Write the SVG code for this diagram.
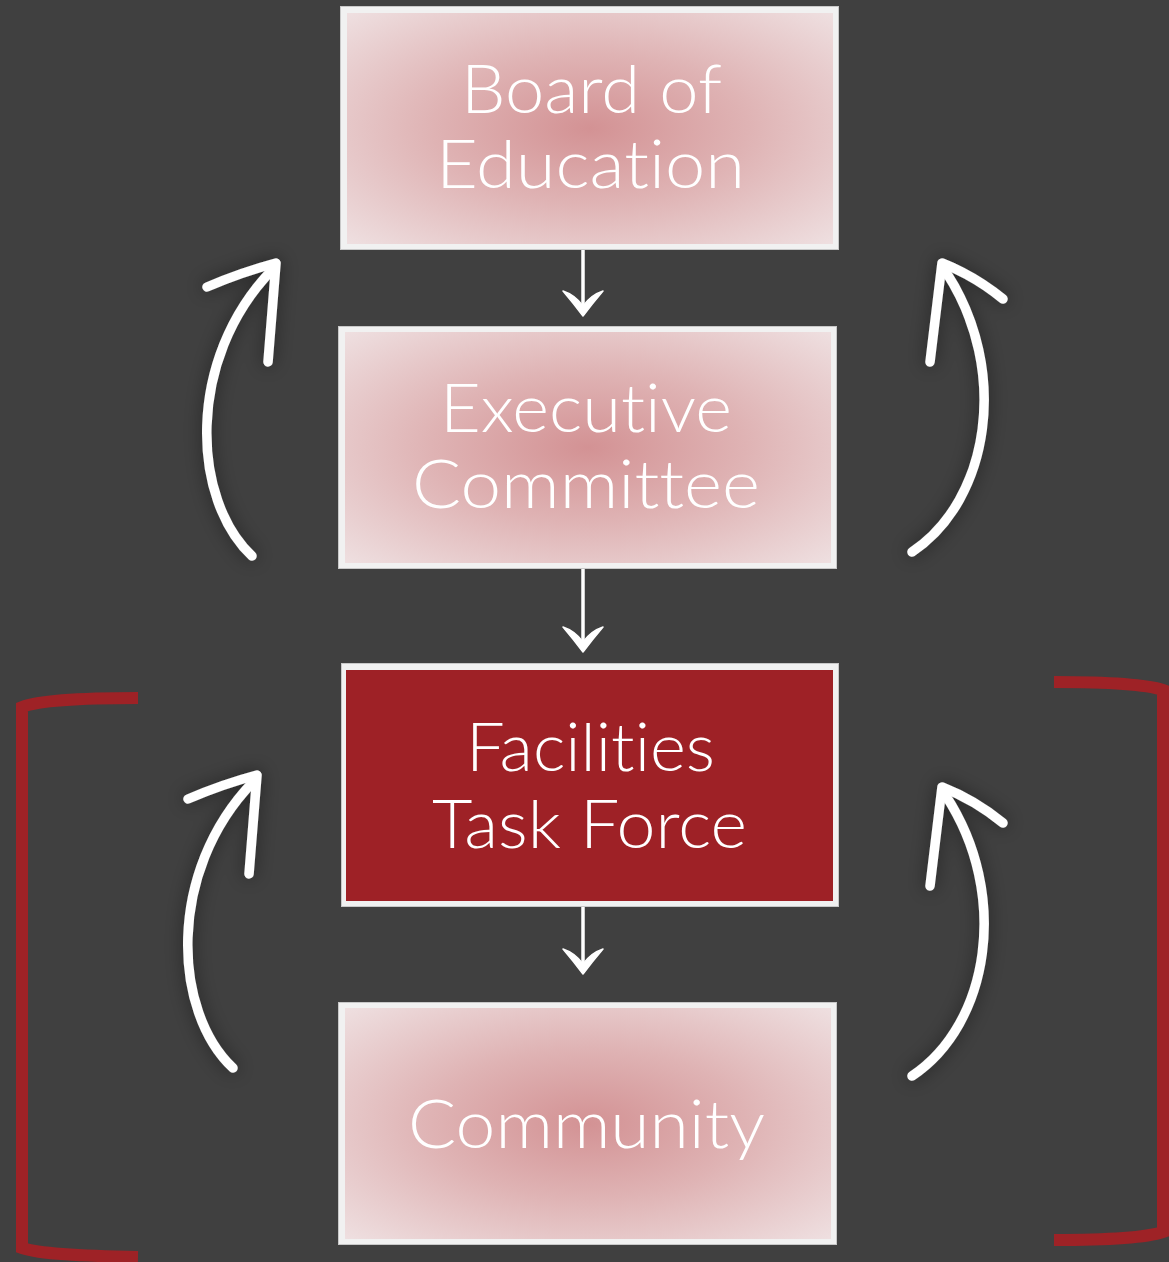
<svg xmlns="http://www.w3.org/2000/svg" xmlns:xlink="http://www.w3.org/1999/xlink" width="1169" height="1262" viewBox="0 0 1169 1262">
  <style>
    .frame { fill: #f1f1f1; stroke: #c8c8c8; stroke-width: 1; }
    .soft { fill: url(#pinkGrad); }
    .label { font-family: Lato, "Liberation Sans", "DejaVu Sans", sans-serif; font-weight: 300; font-size: 67px; fill: #ffffff; text-anchor: middle; font-variant-ligatures: none; font-feature-settings: "liga" 0, "clig" 0; }
    .down { stroke: #ffffff; stroke-width: 3.5; fill: none; marker-end: url(#chev); }
    .curve { stroke: #ffffff; stroke-width: 9.5; fill: none; stroke-linecap: round; stroke-linejoin: round; }
    .bracket { stroke: #9e2226; stroke-width: 12; fill: none; }
  </style>
  <defs>
    <radialGradient id="pinkGrad" cx="0.5" cy="0.5" r="0.72">
      <stop offset="0" stop-color="#d39294"/>
      <stop offset="0.45" stop-color="#dfb3b4"/>
      <stop offset="1" stop-color="#efe1e2"/>
    </radialGradient>
    <filter id="halo" x="-50%" y="-20%" width="200%" height="140%">
      <feGaussianBlur in="SourceAlpha" stdDeviation="9" result="b"/>
      <feComponentTransfer in="b" result="s"><feFuncA type="linear" slope="0.45"/></feComponentTransfer>
      <feMerge><feMergeNode in="s"/><feMergeNode in="SourceGraphic"/></feMerge>
    </filter>
    <marker id="chev" viewBox="-28 -22 30 44" refX="0" refY="0" markerWidth="30" markerHeight="44" markerUnits="userSpaceOnUse" orient="auto">
      <path d="M1,0 Q-11,-9 -24,-20 Q-20,-8 -9,0 Q-20,8 -24,20 Q-11,9 1,0 Z" fill="#ffffff" stroke="#ffffff" stroke-width="1.5" stroke-linejoin="round"/>
    </marker>
  </defs>

  <rect x="0" y="0" width="1169" height="1262" fill="#404040"/>

  <g id="brackets">
    <path class="bracket" d="M138,698 C80,698 40,700 22,707 L22,1248 C40,1254 80,1256 138,1257"/>
    <path class="bracket" d="M1054,682 C1110,682 1145,684 1163,690 L1163,1232 C1145,1238 1110,1240 1054,1240"/>
  </g>

  <g id="node-board">
    <rect class="frame" x="340.5" y="6.5" width="498" height="243"/>
    <rect class="soft" x="347" y="13" width="486" height="231"/>
    <text class="label" x="591.5" y="113" textLength="261" lengthAdjust="spacingAndGlyphs">Board of</text>
    <text class="label" x="590.5" y="188" textLength="309" lengthAdjust="spacingAndGlyphs">Education</text>
  </g>

  <g id="node-executive">
    <rect class="frame" x="338.5" y="326.5" width="498" height="242"/>
    <rect class="soft" x="345" y="332" width="486" height="231"/>
    <text class="label" x="586" y="432" textLength="292" lengthAdjust="spacingAndGlyphs">Executive</text>
    <text class="label" x="586" y="508" textLength="348" lengthAdjust="spacingAndGlyphs">Committee</text>
  </g>

  <g id="node-facilities">
    <rect class="frame" x="341.5" y="663.5" width="497" height="243"/>
    <rect x="346" y="670" width="487" height="231" fill="#9e2126"/>
    <text class="label" x="590.5" y="771" textLength="249" lengthAdjust="spacingAndGlyphs">Facilities</text>
    <text class="label" x="589.5" y="848" textLength="315" lengthAdjust="spacingAndGlyphs">Task Force</text>
  </g>

  <g id="node-community">
    <rect class="frame" x="338.5" y="1002.5" width="498" height="242"/>
    <rect class="soft" x="345" y="1008" width="486" height="231"/>
    <text class="label" x="586.5" y="1148" textLength="357" lengthAdjust="spacingAndGlyphs">Community</text>
  </g>

  <g id="connectors">
    <line class="down" x1="583" y1="250" x2="583" y2="315"/>
    <line class="down" x1="583" y1="569" x2="583" y2="651"/>
    <line class="down" x1="583" y1="907" x2="583" y2="973"/>

    <g filter="url(#halo)">
      <g id="curve-left-top">
        <path class="curve" d="M252,556 C192,500 185,360 272,270"/>
        <path class="curve" d="M207,287 Q242,272 276,263 L268,362"/>
      </g>
      <g id="curve-right-top">
        <path class="curve" d="M912,552 C990,500 1010,370 946,272"/>
        <path class="curve" d="M1003,299 Q975,276 942,263 L930,362"/>
      </g>
      <g id="curve-left-bottom" transform="translate(-19,512)">
        <path class="curve" d="M252,556 C192,500 185,360 272,270"/>
        <path class="curve" d="M207,287 Q242,272 276,263 L268,362"/>
      </g>
      <g id="curve-right-bottom" transform="translate(0,524)">
        <path class="curve" d="M912,552 C990,500 1010,370 946,272"/>
        <path class="curve" d="M1003,299 Q975,276 942,263 L930,362"/>
      </g>
    </g>
  </g>
</svg>
